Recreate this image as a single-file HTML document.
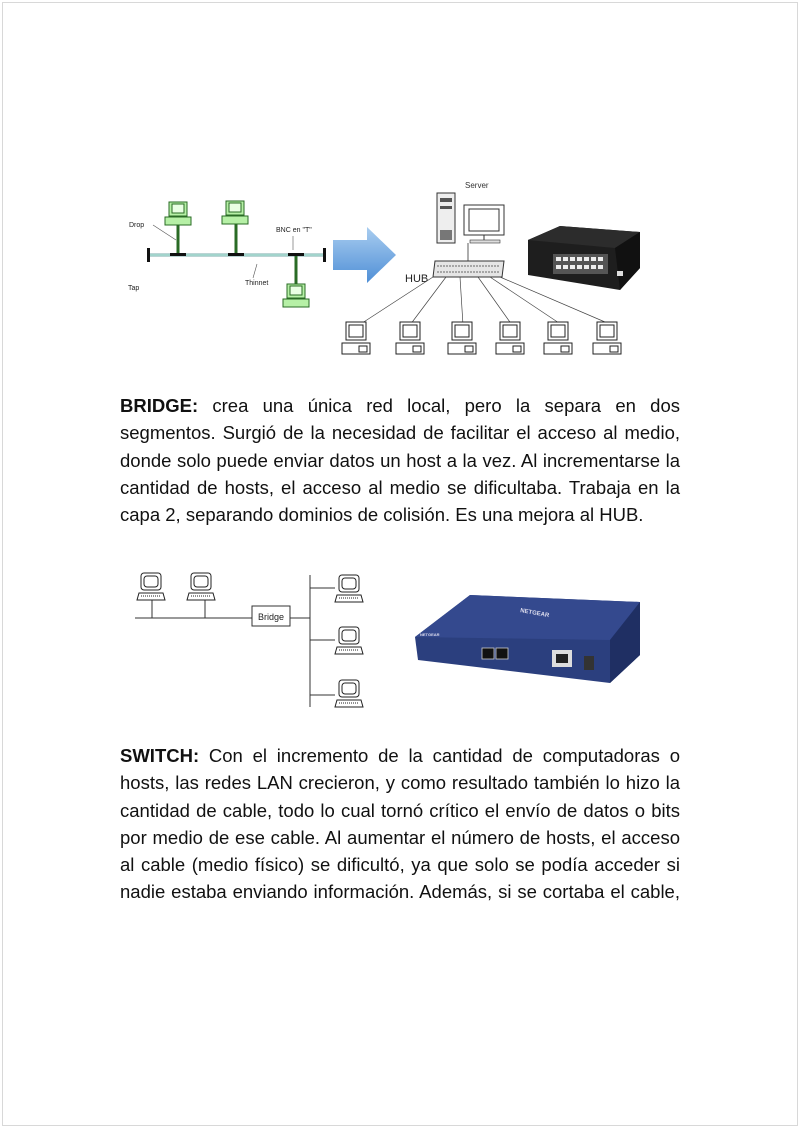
<!DOCTYPE html>
<html><head><meta charset="utf-8"><style>
html,body{margin:0;padding:0;background:#fff;}
body{width:800px;height:1128px;position:relative;overflow:hidden;font-family:"Liberation Sans",sans-serif;}
.frame{position:absolute;left:2px;top:2px;width:794px;height:1122px;border:1px solid #d8d8d8;}
.p{position:absolute;left:120px;width:560px;font-size:18.5px;line-height:27.3px;color:#111;}
.p div{text-align:justify;text-align-last:justify;white-space:nowrap;height:27.3px;}
.p div.l{text-align-last:left;}
svg{position:absolute;left:0;top:0;}
</style></head><body>
<div class="frame"></div>
<svg width="800" height="1128" xmlns="http://www.w3.org/2000/svg" font-family="Liberation Sans, sans-serif">
<defs>
<linearGradient id="ar" x1="0" y1="0" x2="0" y2="1"><stop offset="0" stop-color="#a9cdf0"/><stop offset="1" stop-color="#4f8fd6"/></linearGradient>
<g id="gpc"><rect x="4" y="0" width="18" height="14" fill="#b6f0a6" stroke="#2a6b25"/><rect x="7" y="2" width="12" height="9" fill="#e9ffe3" stroke="#2a6b25"/><rect x="0" y="15" width="26" height="8" fill="#b6f0a6" stroke="#2a6b25"/></g>
<g id="bpc"><rect x="4" y="0" width="20" height="18" fill="#fff" stroke="#222"/><rect x="7" y="3" width="14" height="12" fill="#fff" stroke="#222"/><rect x="0" y="21" width="28" height="11" fill="#fff" stroke="#222"/><rect x="17" y="24" width="8" height="6" fill="#fff" stroke="#222"/></g>
<g id="lpc"><rect x="4" y="0" width="20" height="17" rx="3" fill="#fff" stroke="#222"/><rect x="7" y="3" width="14" height="11" rx="3" fill="#fff" stroke="#222"/><polygon points="2,20 26,20 28,27 0,27" fill="#fff" stroke="#222"/><line x1="4" y1="23" x2="24" y2="23" stroke="#222" stroke-dasharray="1,1"/></g>
</defs>
<line x1="148" y1="255" x2="325" y2="255" stroke="#7aa" stroke-width="3"/>
<line x1="148" y1="255" x2="325" y2="255" stroke="#cfe" stroke-width="1"/>
<rect x="147" y="248" width="3" height="14" fill="#111"/><rect x="323" y="248" width="3" height="14" fill="#111"/>
<rect x="170" y="253" width="16" height="3" fill="#111"/><rect x="228" y="253" width="16" height="3" fill="#111"/><rect x="288" y="253" width="16" height="3" fill="#111"/>
<line x1="178" y1="225" x2="178" y2="253" stroke="#2a6b25" stroke-width="3"/>
<line x1="236" y1="224" x2="236" y2="253" stroke="#2a6b25" stroke-width="3"/>
<line x1="296" y1="256" x2="296" y2="285" stroke="#2a6b25" stroke-width="3"/>
<use href="#gpc" x="165" y="202"/><use href="#gpc" x="222" y="201"/><use href="#gpc" x="283" y="284"/>
<text x="129" y="227" font-size="7" fill="#222">Drop</text>
<line x1="153" y1="225" x2="176" y2="240" stroke="#555" stroke-width="0.6"/>
<text x="276" y="232" font-size="7" fill="#222">BNC en "T"</text>
<line x1="293" y1="236" x2="293" y2="250" stroke="#555" stroke-width="0.6"/>
<text x="128" y="290" font-size="7" fill="#222">Tap</text>
<text x="245" y="285" font-size="7" fill="#222">Thinnet</text>
<line x1="253" y1="278" x2="257" y2="264" stroke="#555" stroke-width="0.6"/>
<polygon points="333,240 367,240 367,227 396,255 367,283 367,270 333,270" fill="url(#ar)"/>
<text x="465" y="188" font-size="8" fill="#333">Server</text>
<rect x="437" y="193" width="18" height="50" fill="#eee" stroke="#333"/>
<rect x="440" y="198" width="12" height="4" fill="#555"/><rect x="440" y="206" width="12" height="3" fill="#555"/><rect x="440" y="230" width="12" height="10" fill="#777"/>
<rect x="464" y="205" width="40" height="30" fill="#fff" stroke="#333"/><rect x="469" y="209" width="30" height="22" fill="#fff" stroke="#333"/>
<line x1="484" y1="235" x2="484" y2="240" stroke="#333"/><rect x="470" y="240" width="30" height="3" fill="#ddd" stroke="#333" stroke-width=".6"/>
<line x1="468" y1="243" x2="468" y2="262" stroke="#333" stroke-width=".8"/>
<polygon points="435,261 504,261 502,277 433,277" fill="#e5e5e5" stroke="#333"/>
<line x1="437" y1="266" x2="500" y2="266" stroke="#666" stroke-dasharray="2,1"/><line x1="437" y1="272" x2="500" y2="272" stroke="#666" stroke-dasharray="2,1"/>
<text x="405" y="282" font-size="11" fill="#222">HUB</text>
<g stroke="#444" stroke-width=".7">
<line x1="433" y1="277" x2="356" y2="327"/><line x1="446" y1="277" x2="410" y2="325"/><line x1="460" y1="277" x2="463" y2="325"/><line x1="478" y1="277" x2="512" y2="325"/><line x1="490" y1="277" x2="562" y2="325"/><line x1="500" y1="277" x2="612" y2="325"/></g>
<use href="#bpc" x="342" y="322"/><use href="#bpc" x="396" y="322"/><use href="#bpc" x="448" y="322"/><use href="#bpc" x="496" y="322"/><use href="#bpc" x="544" y="322"/><use href="#bpc" x="593" y="322"/>
<polygon points="528,240 560,226 640,232 640,268 620,290 528,275" fill="#1e1e1e"/>
<polygon points="528,240 560,226 640,232 615,248" fill="#2c2c2c"/>
<polygon points="615,248 640,232 640,268 620,290" fill="#111"/>
<rect x="553" y="254" width="55" height="20" fill="#555"/>
<g fill="#eee"><rect x="556" y="257" width="5" height="4"/><rect x="563" y="257" width="5" height="4"/><rect x="570" y="257" width="5" height="4"/><rect x="577" y="257" width="5" height="4"/><rect x="584" y="257" width="5" height="4"/><rect x="591" y="257" width="5" height="4"/><rect x="598" y="257" width="5" height="4"/>
<rect x="556" y="265" width="5" height="4"/><rect x="563" y="265" width="5" height="4"/><rect x="570" y="265" width="5" height="4"/><rect x="577" y="265" width="5" height="4"/><rect x="584" y="265" width="5" height="4"/><rect x="591" y="265" width="5" height="4"/><rect x="598" y="265" width="5" height="4"/></g>
<rect x="617" y="271" width="6" height="5" fill="#ddd"/>
<g stroke="#333" stroke-width="1" fill="none">
<line x1="135" y1="618" x2="252" y2="618"/><line x1="152" y1="600" x2="152" y2="618"/><line x1="205" y1="600" x2="205" y2="618"/>
<rect x="252" y="606" width="38" height="20" fill="#fff"/><line x1="290" y1="618" x2="310" y2="618"/>
<line x1="310" y1="575" x2="310" y2="707"/><line x1="310" y1="588" x2="335" y2="588"/><line x1="310" y1="640" x2="335" y2="640"/><line x1="310" y1="695" x2="335" y2="695"/></g>
<text x="258" y="620" font-size="9" fill="#222">Bridge</text>
<use href="#lpc" x="137" y="573"/><use href="#lpc" x="187" y="573"/>
<use href="#lpc" x="335" y="575"/><use href="#lpc" x="335" y="627"/><use href="#lpc" x="335" y="680"/>
<polygon points="415,637 470,595 640,602 640,655 610,683 418,660" fill="#2b3f7e"/>
<polygon points="415,637 470,595 640,602 610,640" fill="#34498e"/>
<polygon points="610,640 640,602 640,655 610,683" fill="#1f2f63"/>
<text x="420" y="636" font-size="4" fill="#dde" font-weight="bold">NETGEAR</text>
<text x="520" y="612" font-size="6" fill="#dde" font-weight="bold" transform="rotate(10 520 612)">NETGEAR</text>
<rect x="482" y="648" width="12" height="11" fill="#111" stroke="#ccc" stroke-width=".8"/><rect x="496" y="648" width="12" height="11" fill="#111" stroke="#ccc" stroke-width=".8"/>
<rect x="552" y="650" width="20" height="17" fill="#ddd"/><rect x="556" y="654" width="12" height="9" fill="#222"/>
<rect x="584" y="656" width="10" height="14" fill="#333"/>
</svg>
<div class="p" style="top:392px;">
<div><b>BRIDGE:</b> crea una única red local, pero la separa en dos</div>
<div>segmentos. Surgió de la necesidad de facilitar el acceso al medio,</div>
<div>donde solo puede enviar datos un host a la vez. Al incrementarse la</div>
<div>cantidad de hosts, el acceso al medio se dificultaba. Trabaja en la</div>
<div class="l">capa 2, separando dominios de colisión. Es una mejora al HUB.</div>
</div>
<div class="p" style="top:742px;">
<div><b>SWITCH:</b> Con el incremento de la cantidad de computadoras o</div>
<div>hosts, las redes LAN crecieron, y como resultado también lo hizo la</div>
<div>cantidad de cable, todo lo cual tornó crítico el envío de datos o bits</div>
<div>por medio de ese cable. Al aumentar el número de hosts, el acceso</div>
<div>al cable (medio físico) se dificultó, ya que solo se podía acceder si</div>
<div>nadie estaba enviando información. Además, si se cortaba el cable,</div>
</div>
</body></html>
